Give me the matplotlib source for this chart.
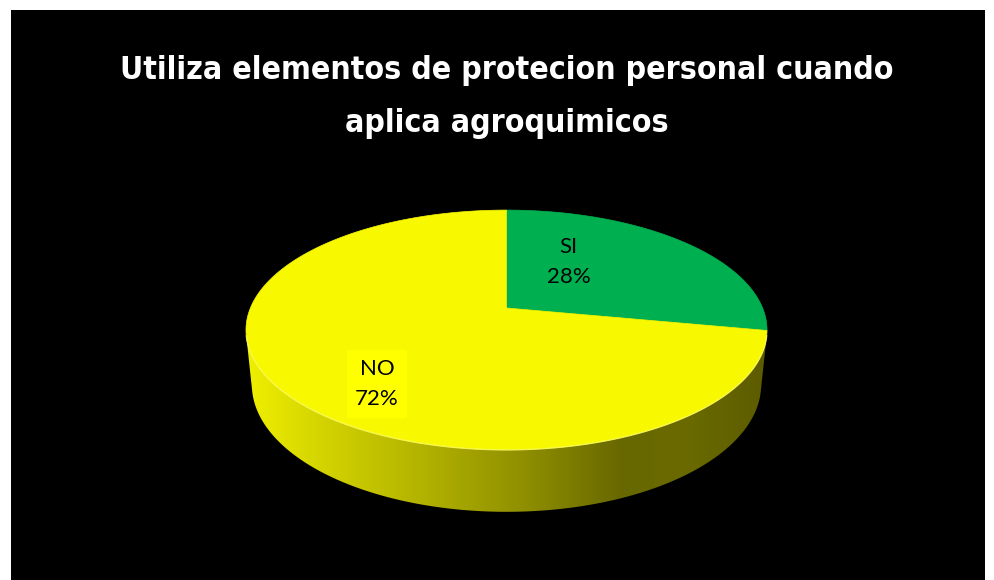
import os
import numpy as np
import matplotlib
matplotlib.use('Agg')
import matplotlib.pyplot as plt
from matplotlib import font_manager as fm
from matplotlib.patches import Polygon
from matplotlib.colors import LinearSegmentedColormap

# datos
titulo = ['Utiliza elementos de protecion personal cuando', 'aplica agroquimicos']
categorias = ['SI', 'NO']
porcentajes = [28, 72]
colores = ['#00B050', '#F8F800']

# camara (pie 3D con perspectiva)
PHI = np.radians(26.9)
DIST = 4.865
FOCAL = 1246.0
GROSOR = 0.2415
CX, CY = 506.5, 308.0


def proyectar(x, y, z):
    c, s = np.cos(PHI), np.sin(PHI)
    prof = DIST + c * y - s * z
    sx = FOCAL * x / prof
    sy = FOCAL * (s * y + c * z) / prof
    return CX + sx, CY - sy


def borde(t, z):
    return np.column_stack(proyectar(np.cos(t), np.sin(t), z * np.ones_like(t)))


def fuente_titulo():
    # fuente estrecha y gruesa, parecida a Agency FB
    archivos = [f.fname for f in fm.fontManager.ttflist]
    claves = ['notosans-extracondensedbold', 'notosans-condensedbold',
              'dejavusanscondensed-bold', 'liberationsansnarrow-bold',
              'robotocondensed-bold', 'opensans-condensedbold']
    for k in claves:
        for f in archivos:
            if os.path.basename(f).lower().startswith(k):
                return fm.FontProperties(fname=f)
    return fm.FontProperties(family='DejaVu Sans', weight='bold')


fig = plt.figure(figsize=(9.94, 5.80), dpi=100)
fig.patch.set_facecolor('white')
ax = fig.add_axes([11 / 994, 0, 974 / 994, 570 / 580])
ax.set_facecolor('black')
ax.set_xlim(11, 985)
ax.set_ylim(580, 10)
ax.set_xticks([])
ax.set_yticks([])
for sp in ax.spines.values():
    sp.set_visible(False)

# lado visible del cilindro
lim = np.arcsin(-1 / (DIST * np.cos(PHI)))
t = np.linspace(np.pi - lim, 2 * np.pi + lim, 300)
lado = np.vstack([borde(t, 0), borde(t[::-1], -GROSOR)])
poly_lado = Polygon(lado, closed=True, facecolor='none', edgecolor='none')
ax.add_patch(poly_lado)
grad = LinearSegmentedColormap.from_list('lado', [
    (0.0, '#F0F000'), (0.12, '#D8D800'), (0.35, '#B0B000'),
    (0.55, '#8C8C00'), (0.72, '#686800'), (0.85, '#6A6A00'), (1.0, '#5C5C00')])
x0, x1 = lado[:, 0].min(), lado[:, 0].max()
y0, y1 = lado[:, 1].min(), lado[:, 1].max()
img = ax.imshow(np.linspace(0, 1, 256)[None, :], cmap=grad, aspect='auto',
                extent=(x0, x1, y1, y0), interpolation='bilinear', zorder=1)
img.set_clip_path(poly_lado)

# cara superior
inicio = np.pi / 2
angs = [inicio]
for p in porcentajes:
    angs.append(angs[-1] - 2 * np.pi * p / 100)
centro = proyectar(0.0, 0.0, 0.0)
for i, col in enumerate(colores):
    t = np.linspace(angs[i], angs[i + 1], 200)
    pts = np.vstack([[centro], borde(t, 0)])
    ax.add_patch(Polygon(pts, closed=True, facecolor=col, edgecolor=col,
                         lw=0.5, zorder=2))

# brillo del canto
t = np.linspace(np.pi - lim, 2 * np.pi + lim, 300)
ax.plot(*borde(t, 0).T, color='#FFFF70', lw=1.0, alpha=0.7, zorder=3)

# etiquetas
pos_etiquetas = [(0.50, 58.6), (0.74, 232.4)]
fondo = [None, '#FFFF00']
for cat, p, (r, a), bg in zip(categorias, porcentajes, pos_etiquetas, fondo):
    a = np.radians(a)
    lx, ly = proyectar(r * np.cos(a), r * np.sin(a), 0.0)
    kw = {}
    if bg:
        kw['bbox'] = dict(boxstyle='square,pad=0.38', facecolor=bg, edgecolor='none')
    ax.text(lx, ly, f'{cat}\n{p}%', ha='center', va='center', fontsize=16,
            family=['Lato', 'DejaVu Sans'], color='black', linespacing=1.65,
            zorder=5, **kw)

# titulo (ajustado al ancho de la primera linea)
fp = fuente_titulo()
textos = []
for i, linea in enumerate(titulo):
    textos.append(ax.text(507, 79 + 53 * i, linea, ha='center', va='baseline',
                          color='white', fontproperties=fp, fontsize=30,
                          zorder=5))
fig.canvas.draw()
ancho = textos[0].get_window_extent().width
for tx in textos:
    tx.set_fontsize(30 * 771 / ancho)

fig.savefig('out.png', dpi=100, facecolor=fig.get_facecolor())
